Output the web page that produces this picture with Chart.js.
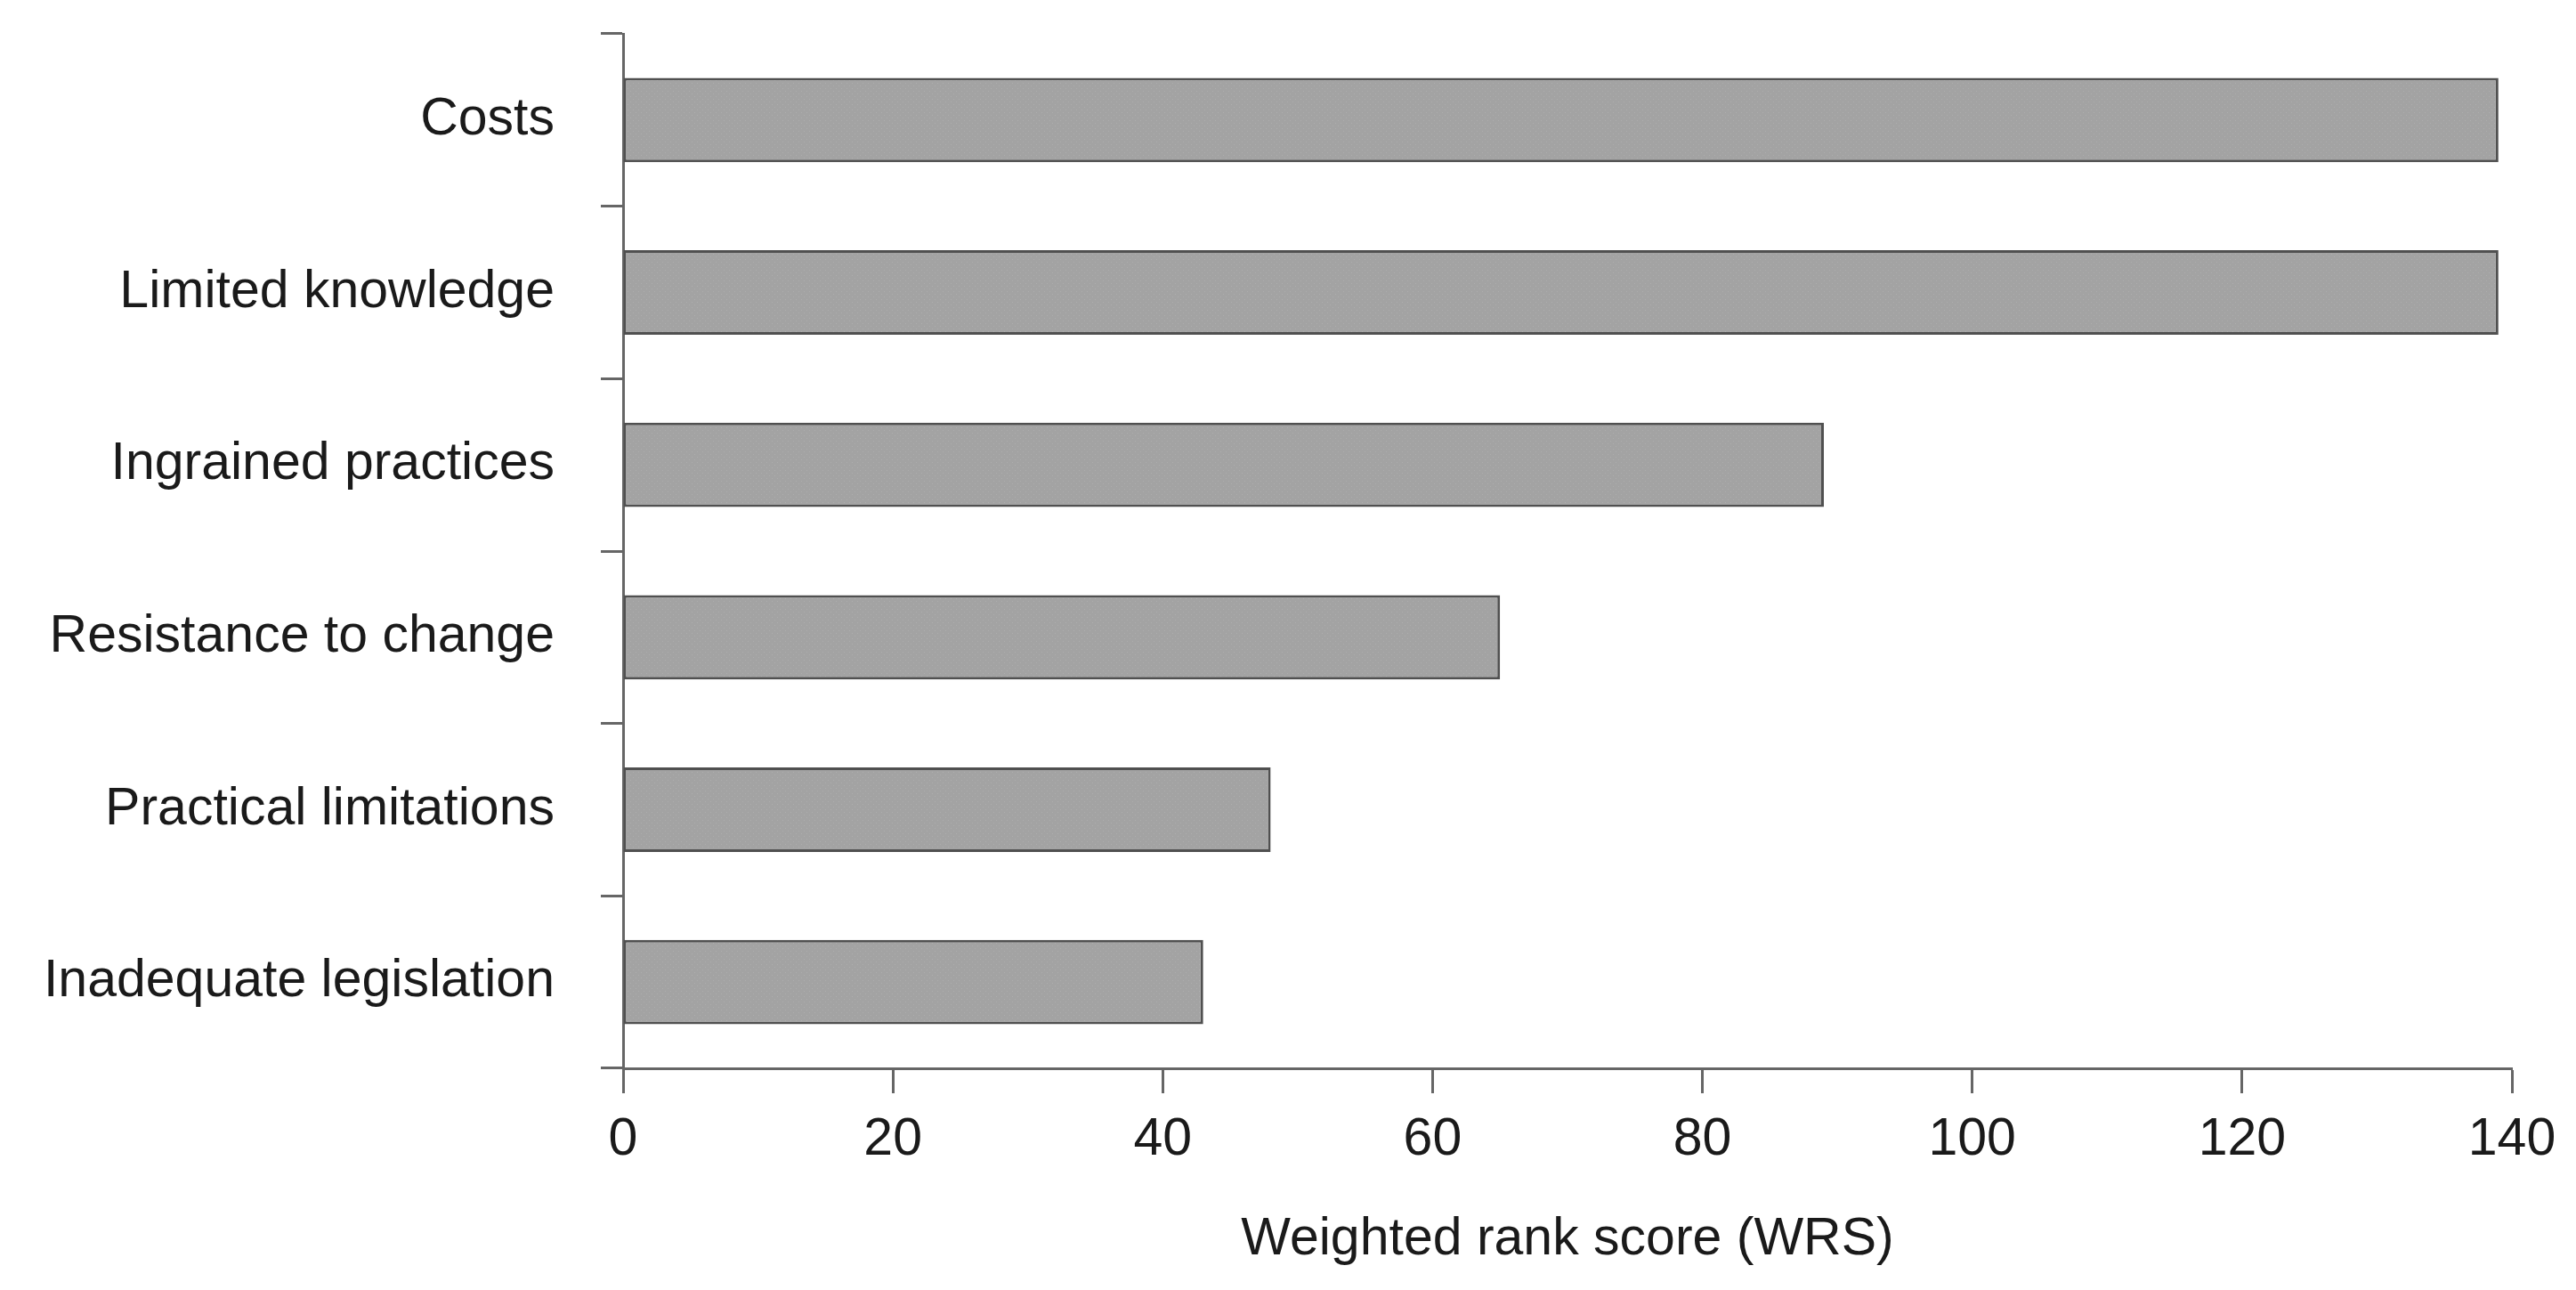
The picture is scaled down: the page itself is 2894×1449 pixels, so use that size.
<!DOCTYPE html>
<html>
<head>
<meta charset="utf-8">
<style>
  html, body { margin: 0; padding: 0; background: #ffffff; }
  #wrap { width: 2894px; height: 1449px; position: relative; }
</style>
<script src="https://cdn.jsdelivr.net/npm/chart.js@4.4.1/dist/chart.umd.min.js"></script>
</head>
<body>
<div id="wrap"><canvas id="c" width="2894" height="1449"></canvas></div>
<script>
const categories = [
  "Costs",
  "Limited knowledge",
  "Ingrained practices",
  "Resistance to change",
  "Practical limitations",
  "Inadequate legislation"
];
const wrsValues = [139, 139, 89, 65, 48, 43];
const xTickValues = [0, 20, 40, 60, 80, 100, 120, 140];
const xAxisTitle = "Weighted rank score (WRS)";

function makePattern() {
  const p = document.createElement('canvas');
  p.width = 6; p.height = 6;
  const g = p.getContext('2d');
  g.fillStyle = '#a3a3a3';
  g.fillRect(0, 0, 6, 6);
  g.fillStyle = '#adadad';
  g.fillRect(0, 0, 1, 1);
  g.fillRect(3, 3, 1, 1);
  return g.createPattern(p, 'repeat');
}

const FONT = "'Liberation Sans', Arial, sans-serif";
const AXIS_COLOR = '#666666';

new Chart(document.getElementById('c'), {
  type: 'bar',
  data: {
    labels: categories,
    datasets: [{
      data: wrsValues,
      backgroundColor: makePattern(),
      borderColor: '#505050',
      borderWidth: 3,
      borderSkipped: false,
      barPercentage: 0.49,
      categoryPercentage: 1.0
    }]
  },
  options: {
    indexAxis: 'y',
    responsive: false,
    animation: false,
    devicePixelRatio: 1,
    layout: { padding: { top: 38, right: 72, bottom: 21, left: 0 } },
    plugins: { legend: { display: false }, tooltip: { enabled: false } },
    scales: {
      x: {
        type: 'linear',
        min: 0,
        max: 140,
        afterBuildTicks: (scale) => { scale.ticks = xTickValues.map(v => ({ value: v })); },
        afterFit: (scale) => { scale.height = 228; },
        grid: { drawOnChartArea: false, drawTicks: true, tickLength: 28, tickColor: AXIS_COLOR, tickWidth: 3 },
        border: { display: true, color: AXIS_COLOR, width: 3 },
        ticks: { color: '#1a1a1a', font: { family: FONT, size: 59 }, padding: 17, maxRotation: 0 },
        title: {
          display: true,
          text: xAxisTitle,
          color: '#1a1a1a',
          font: { family: FONT, size: 59 },
          padding: { top: 20, bottom: 0 }
        }
      },
      y: {
        type: 'category',
        offset: true,
        afterFit: (scale) => { scale.width = 700; scale.paddingTop = 0; scale.paddingBottom = 0; },
        grid: { offset: true, drawOnChartArea: false, drawTicks: true, tickLength: 25, tickColor: AXIS_COLOR, tickWidth: 3 },
        border: { display: true, color: AXIS_COLOR, width: 3 },
        ticks: { color: '#1a1a1a', font: { family: FONT, size: 59 }, padding: 52 }
      }
    }
  }
});
</script>
</body>
</html>
